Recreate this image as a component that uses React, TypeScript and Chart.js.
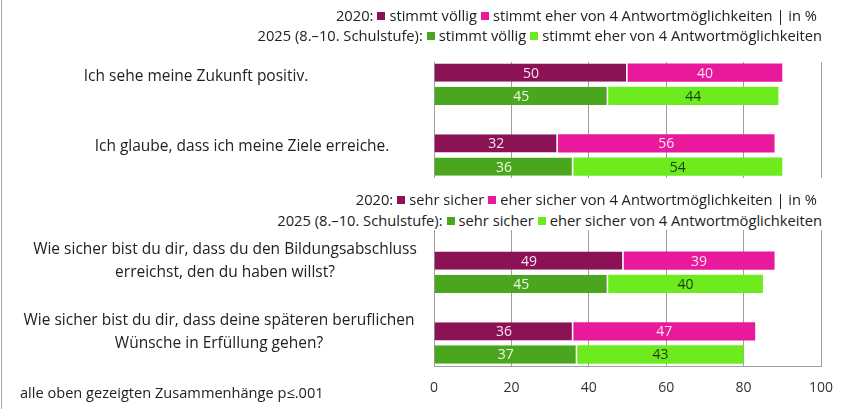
import React, { useEffect, useRef } from 'react';
import { Chart, registerables } from 'chart.js';

Chart.register(...registerables);

// ---------- data ----------
const topQuestions: string[][] = [
  ['Ich sehe meine Zukunft positiv.'],
  ['Ich glaube, dass ich meine Ziele erreiche.'],
];
const bottomQuestions: string[][] = [
  ['Wie sicher bist du dir, dass du den Bildungsabschluss', 'erreichst, den du haben willst?'],
  ['Wie sicher bist du dir, dass deine späteren beruflichen', 'Wünsche in Erfüllung gehen?'],
];
const top2020Full = [50, 32];
const top2020Rather = [40, 56];
const top2025Full = [45, 36];
const top2025Rather = [44, 54];
const bottom2020Full = [49, 36];
const bottom2020Rather = [39, 47];
const bottom2025Full = [45, 37];
const bottom2025Rather = [40, 43];
const xTicks = [0, 20, 40, 60, 80, 100];

const topLegend2020 = ['2020:', 'stimmt völlig', 'stimmt eher von 4 Antwortmöglichkeiten | in %'];
const topLegend2025 = ['2025 (8.–10. Schulstufe):', 'stimmt völlig', 'stimmt eher von 4 Antwortmöglichkeiten'];
const bottomLegend2020 = ['2020:', 'sehr sicher', 'eher sicher von 4 Antwortmöglichkeiten | in %'];
const bottomLegend2025 = ['2025 (8.–10. Schulstufe):', 'sehr sicher', 'eher sicher von 4 Antwortmöglichkeiten'];
const footnote = 'alle oben gezeigten Zusammenhänge p≤.001';

// ---------- styles ----------
const FONT = '"Open Sans", "DejaVu Sans", sans-serif';
const C2020A = '#8c1256';
const C2020B = '#e81a9b';
const C2025A = '#4ba61f';
const C2025B = '#6deb1f';
const GRID = '#9f9f9f';

Chart.defaults.font.family = FONT;

function makeDatasets(a: number[], b: number[], c: number[], d: number[]) {
  const mk = (label: string, vals: number[], color: string, stack: string, textColor: string, first: boolean) => ({
    label,
    data: vals.map((v, i) => ({ x: v, y: i + 1 })),
    backgroundColor: color,
    borderColor: '#ffffff',
    borderWidth: first ? { left: 0, top: 0, bottom: 0, right: 1.5 } : 0,
    borderSkipped: false,
    stack,
    categoryPercentage: 0.656,
    barPercentage: 0.79,
    textColor,
  });
  return [
    mk('2020 A', a, C2020A, '2020', 'rgba(255,240,248,0.95)', true),
    mk('2020 B', b, C2020B, '2020', 'rgba(255,240,248,0.95)', false),
    mk('2025 A', c, C2025A, '2025', 'rgba(245,255,240,0.95)', true),
    mk('2025 B', d, C2025B, '2025', '#1c3a0c', false),
  ];
}

const valueLabels = {
  id: 'valueLabels',
  afterDatasetsDraw(chart: any) {
    const ctx = chart.ctx;
    ctx.save();
    ctx.font = `14px ${FONT}`;
    ctx.textAlign = 'center';
    ctx.textBaseline = 'middle';
    chart.data.datasets.forEach((d: any, di: number) => {
      const meta = chart.getDatasetMeta(di);
      meta.data.forEach((el: any, i: number) => {
        const p = el.getProps(['x', 'y', 'base'], true);
        ctx.fillStyle = d.textColor;
        ctx.fillText(String(d.data[i].x), (p.x + p.base) / 2, p.y + 1);
      });
    });
    ctx.restore();
  },
};

function questionPlugin(questions: string[][], centers: number[], dy: number) {
  return {
    id: 'questionLabels',
    afterDraw(chart: any) {
      const ctx = chart.ctx;
      const ys = chart.scales.y;
      ctx.save();
      ctx.font = `15.5px ${FONT}`;
      ctx.fillStyle = '#222222';
      ctx.textAlign = 'center';
      ctx.textBaseline = 'middle';
      questions.forEach((lines, i) => {
        const cy = ys.getPixelForValue(i + 1) + dy;
        lines.forEach((line, j) => {
          ctx.fillText(line, centers[i], cy + (j - (lines.length - 1) / 2) * 23);
        });
      });
      ctx.restore();
    },
  };
}

function buildChart(
  canvas: HTMLCanvasElement,
  datasets: any[],
  questions: string[][],
  centers: number[],
  labelDy: number,
  yMin: number,
  yMax: number,
  isBottom: boolean,
  padding: any,
) {
  return new Chart(canvas, {
    type: 'bar',
    data: { datasets },
    options: {
      indexAxis: 'y',
      responsive: false,
      animation: false,
      layout: { padding },
      plugins: { legend: { display: false }, tooltip: { enabled: false } },
      scales: {
        x: {
          type: 'linear',
          position: 'bottom',
          min: 0,
          max: 100,
          stacked: true,
          afterBuildTicks: (ax: any) => {
            ax.ticks = xTicks.map((v) => ({ value: v }));
          },
          grid: { color: GRID, drawTicks: false, lineWidth: 1 },
          border: { display: isBottom, color: GRID },
          ticks: { display: isBottom, padding: 13, color: '#333333', font: { size: 14 } },
        },
        y: {
          type: 'linear',
          display: false,
          offset: false,
          reverse: true,
          min: yMin,
          max: yMax,
          afterBuildTicks: (ax: any) => {
            ax.ticks = questions.map((_, i) => ({ value: i + 1 }));
          },
        },
      },
    } as any,
    plugins: [valueLabels, questionPlugin(questions, centers, labelDy)],
  });
}

function Square({ color }: { color: string }) {
  return (
    <span
      style={{
        display: 'inline-block',
        width: 8,
        height: 8,
        background: color,
        margin: '0 4px 0 4px',
        verticalAlign: 'middle',
        position: 'relative',
        top: -1,
      }}
    />
  );
}

function LegendLine({ items, c1, c2, top, right }: { items: string[]; c1: string; c2: string; top: number; right: number }) {
  return (
    <div
      style={{
        position: 'absolute',
        right,
        top: top - 10,
        height: 20,
        lineHeight: '20px',
        fontSize: 14.7,
        fontFamily: FONT,
        color: '#222',
        whiteSpace: 'nowrap',
        background: '#fff',
      }}
    >
      {items[0]}
      <Square color={c1} />
      {items[1]}
      <Square color={c2} />
      {items[2]}
    </div>
  );
}

export default function App() {
  const topRef = useRef<HTMLCanvasElement>(null);
  const botRef = useRef<HTMLCanvasElement>(null);

  useEffect(() => {
    document.body.style.margin = '0';
    const c1 = buildChart(
      topRef.current!,
      makeDatasets(top2020Full, top2020Rather, top2025Full, top2025Rather),
      topQuestions,
      [196, 242],
      -8,
      0.686,
      2.325,
      false,
      { left: 434, right: 28, top: 62, bottom: 12 },
    );
    const c2 = buildChart(
      botRef.current!,
      makeDatasets(bottom2020Full, bottom2020Rather, bottom2025Full, bottom2025Rather),
      bottomQuestions,
      [225, 219],
      -11,
      0.16,
      2.33,
      true,
      { left: 434, right: 28, top: 27, bottom: 0 },
    );
    return () => {
      c1.destroy();
      c2.destroy();
    };
  }, []);

  return (
    <div style={{ position: 'relative', width: 849, height: 409, background: '#fff', overflow: 'hidden' }}>
      <canvas ref={topRef} width={849} height={190} style={{ position: 'absolute', left: 0, top: 0 }} />
      <canvas ref={botRef} width={849} height={223} style={{ position: 'absolute', left: 0, top: 186 }} />
      <LegendLine items={topLegend2020} c1={C2020A} c2={C2020B} top={15} right={32} />
      <LegendLine items={topLegend2025} c1={C2025A} c2={C2025B} top={35} right={27} />
      <LegendLine items={bottomLegend2020} c1={C2020A} c2={C2020B} top={199} right={32} />
      <LegendLine items={bottomLegend2025} c1={C2025A} c2={C2025B} top={220} right={27} />
      <div
        style={{
          position: 'absolute',
          left: 20,
          top: 382,
          height: 20,
          lineHeight: '20px',
          fontSize: 14.6,
          fontFamily: FONT,
          color: '#222',
          whiteSpace: 'nowrap',
        }}
      >
        {footnote}
      </div>
      <div style={{ position: 'absolute', left: 1, top: 0, width: 1, height: 409, background: '#a8a8a8' }} />
    </div>
  );
}
